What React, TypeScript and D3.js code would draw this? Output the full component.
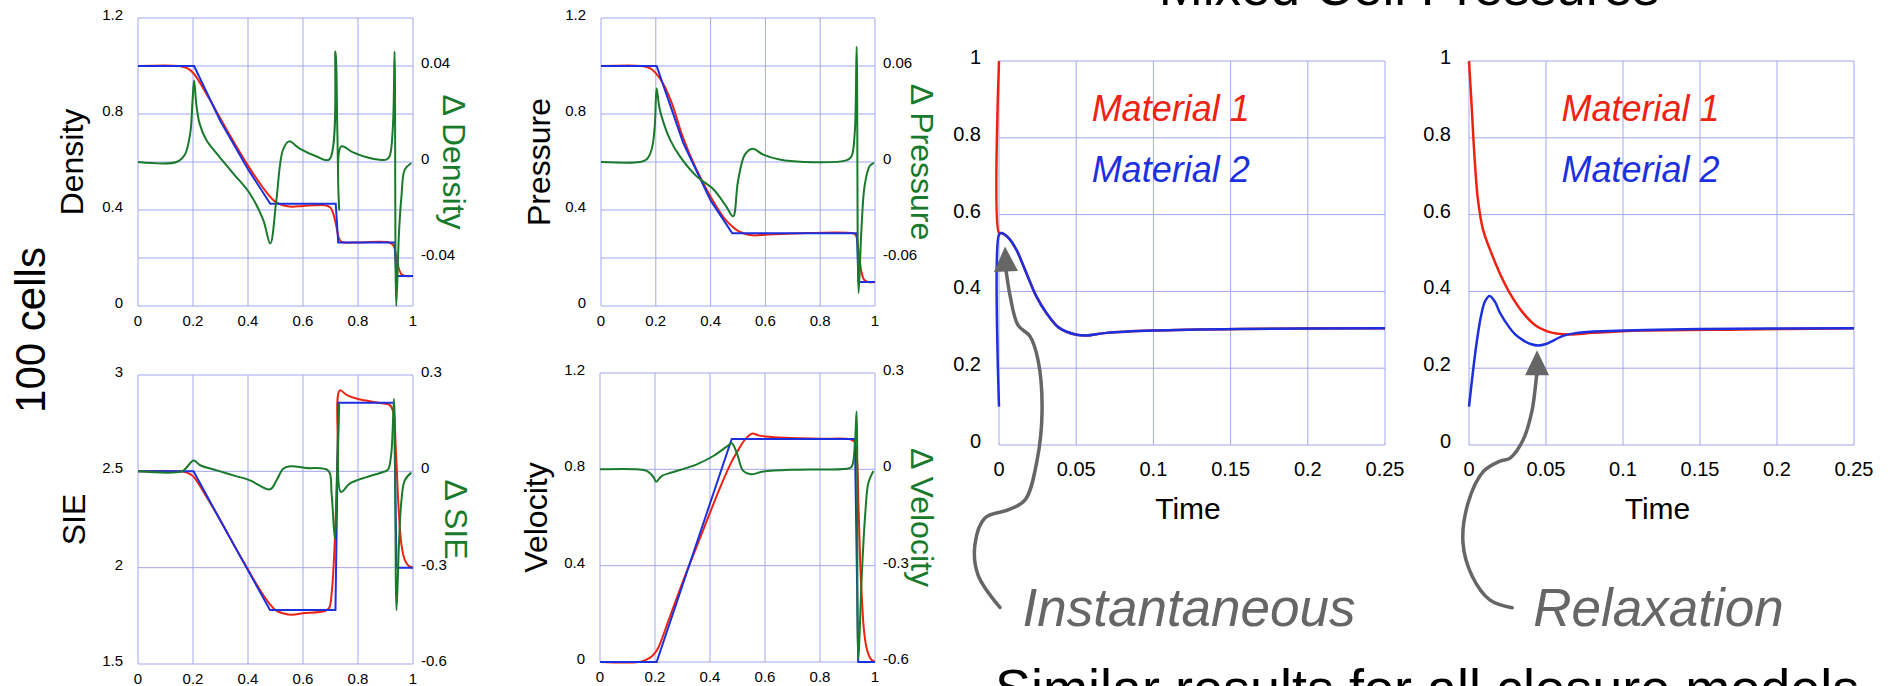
import { useEffect, useRef } from "react";
import * as d3 from "d3";

type Pt = [number, number];

// ---- 1D shock tube profiles (x in [0,1]) ----
const profileTicks = [0, 0.2, 0.4, 0.6, 0.8, 1];

const densityExact: Pt[] = [[0, 1], [0.204, 1], [0.3, 0.77], [0.4, 0.57], [0.481, 0.426], [0.719, 0.426], [0.728, 0.265], [0.933, 0.265], [0.939, 0.125], [1, 0.125]];
const densityCalc: Pt[] = [[0, 1], [0.15, 1], [0.18, 0.99], [0.2, 0.972], [0.22, 0.94], [0.26, 0.862], [0.3, 0.78], [0.35, 0.68], [0.4, 0.585], [0.45, 0.5], [0.48, 0.456], [0.5, 0.434], [0.53, 0.419], [0.56, 0.414], [0.6, 0.417], [0.68, 0.42], [0.7, 0.41], [0.71, 0.385], [0.72, 0.34], [0.73, 0.285], [0.74, 0.267], [0.8, 0.265], [0.915, 0.264], [0.93, 0.25], [0.94, 0.2], [0.95, 0.15], [0.96, 0.13], [0.975, 0.125], [1, 0.125]];
const densityDiff: Pt[] = [[0, 0], [0.14, 0], [0.17, 0.003], [0.19, 0.012], [0.198, 0.025], [0.204, 0.034], [0.212, 0.024], [0.224, 0.016], [0.248, 0.0093], [0.285, 0.0037], [0.345, -0.0046], [0.406, -0.013], [0.455, -0.024], [0.481, -0.034], [0.503, -0.016], [0.527, 0.005], [0.549, 0.0086], [0.588, 0.0056], [0.648, 0.0024], [0.695, 0.001], [0.718, 0.046], [0.725, 0.012], [0.731, -0.02], [0.739, 0.0065], [0.782, 0.004], [0.842, 0.0017], [0.903, 0.001], [0.915, 0.0024], [0.927, 0.015], [0.933, 0.046], [0.939, -0.06], [0.949, -0.0296], [0.958, -0.0143], [0.97, -0.0032], [0.994, -0.0004]];

const pressureExact: Pt[] = [[0, 1], [0.203, 1], [0.3, 0.68], [0.4, 0.44], [0.479, 0.303], [0.934, 0.303], [0.94, 0.1], [1, 0.1]];
const pressureCalc: Pt[] = [[0, 1], [0.15, 1], [0.18, 0.99], [0.2, 0.97], [0.23, 0.92], [0.26, 0.84], [0.3, 0.7], [0.35, 0.565], [0.4, 0.455], [0.45, 0.365], [0.48, 0.33], [0.5, 0.313], [0.53, 0.299], [0.56, 0.294], [0.6, 0.297], [0.7, 0.302], [0.92, 0.303], [0.93, 0.295], [0.94, 0.23], [0.95, 0.145], [0.96, 0.11], [0.975, 0.1], [1, 0.1]];
const pressureDiff: Pt[] = [[0, 0], [0.142, 0], [0.166, 0.0015], [0.185, 0.008], [0.196, 0.022], [0.203, 0.046], [0.212, 0.035], [0.221, 0.0285], [0.252, 0.014], [0.29, 0.003], [0.349, -0.009], [0.41, -0.017], [0.458, -0.028], [0.482, -0.034], [0.5, -0.012], [0.525, 0.0046], [0.553, 0.0083], [0.592, 0.0046], [0.652, 0.0015], [0.74, 0], [0.895, 0.001], [0.914, 0.0035], [0.926, 0.018], [0.933, 0.072], [0.94, -0.082], [0.95, -0.044], [0.962, -0.015], [0.98, -0.0027], [0.996, -0.0006]];

const sieExact: Pt[] = [[0, 2.5], [0.202, 2.5], [0.3, 2.243], [0.4, 1.986], [0.48, 1.78], [0.718, 1.78], [0.729, 2.856], [0.931, 2.856], [0.94, 2.0], [1, 2.0]];
const sieCalc: Pt[] = [[0, 2.5], [0.15, 2.5], [0.18, 2.492], [0.2, 2.475], [0.25, 2.365], [0.3, 2.245], [0.35, 2.115], [0.4, 1.99], [0.45, 1.87], [0.48, 1.81], [0.5, 1.78], [0.53, 1.762], [0.56, 1.755], [0.6, 1.763], [0.68, 1.775], [0.695, 1.79], [0.705, 1.88], [0.716, 2.15], [0.726, 2.6], [0.734, 2.92], [0.76, 2.895], [0.8, 2.875], [0.88, 2.855], [0.915, 2.845], [0.928, 2.81], [0.938, 2.6], [0.948, 2.3], [0.958, 2.12], [0.97, 2.04], [0.985, 2.008], [1, 2.0]];
const sieDiff: Pt[] = [[0, 0], [0.16, 0], [0.178, 0.0135], [0.202, 0.034], [0.226, 0.019], [0.287, 0.003], [0.347, -0.0125], [0.407, -0.028], [0.48, -0.056], [0.504, -0.028], [0.528, 0.008], [0.553, 0.0156], [0.613, 0.0104], [0.692, 0.002], [0.704, -0.07], [0.716, -0.21], [0.731, 0.21], [0.738, -0.064], [0.77, -0.038], [0.831, -0.018], [0.891, -0.002], [0.909, 0.005], [0.921, 0.055], [0.931, 0.226], [0.94, -0.433], [0.949, -0.225], [0.958, -0.09], [0.97, -0.028], [0.994, -0.004]];

const velocityExact: Pt[] = [[0, 0], [0.206, 0], [0.479, 0.926], [0.927, 0.926], [0.939, 0], [1, 0]];
const velocityCalc: Pt[] = [[0, 0], [0.14, 0], [0.165, 0.008], [0.19, 0.025], [0.21, 0.055], [0.25, 0.175], [0.3, 0.33], [0.35, 0.475], [0.4, 0.62], [0.45, 0.76], [0.48, 0.835], [0.5, 0.875], [0.525, 0.92], [0.552, 0.948], [0.58, 0.94], [0.65, 0.932], [0.8, 0.927], [0.91, 0.925], [0.925, 0.915], [0.933, 0.87], [0.94, 0.65], [0.946, 0.42], [0.952, 0.27], [0.96, 0.13], [0.97, 0.055], [0.985, 0.012], [1, 0]];
const velocityDiff: Pt[] = [[0, 0], [0.133, 0], [0.17, -0.005], [0.195, -0.025], [0.204, -0.039], [0.224, -0.021], [0.26, -0.01], [0.291, -0.002], [0.352, 0.0156], [0.412, 0.0415], [0.461, 0.0706], [0.479, 0.081], [0.497, 0.052], [0.521, -0.005], [0.548, -0.0156], [0.594, -0.007], [0.715, -0.001], [0.897, 0.002], [0.915, 0.008], [0.927, 0.083], [0.933, 0.18], [0.939, -0.59], [0.952, -0.33], [0.964, -0.145], [0.976, -0.042], [0.994, -0.005]];

// ---- mixed cell pressure histories (time in [0,0.25]) ----
const timeTicks = [0, 0.05, 0.1, 0.15, 0.2, 0.25];
const pressureTicks = [0, 0.2, 0.4, 0.6, 0.8, 1];

const instMat1: Pt[] = [[0, 1], [0, 0.552], [0.0015, 0.552], [0.006, 0.54], [0.0113, 0.508], [0.0177, 0.448], [0.0242, 0.387], [0.0307, 0.344], [0.039, 0.305], [0.0502, 0.287], [0.0567, 0.285], [0.0697, 0.292], [0.1, 0.298], [0.156, 0.302], [0.25, 0.304]];
const instMat2: Pt[] = [[0, 0.1], [0, 0.548], [0.0015, 0.552], [0.006, 0.54], [0.0113, 0.508], [0.0177, 0.448], [0.0242, 0.387], [0.0307, 0.344], [0.039, 0.305], [0.0502, 0.287], [0.0567, 0.285], [0.0697, 0.292], [0.1, 0.298], [0.156, 0.302], [0.25, 0.304]];
const relaxMat1: Pt[] = [[0, 1], [0.0015, 0.899], [0.0037, 0.743], [0.0058, 0.639], [0.0091, 0.561], [0.0145, 0.5], [0.0199, 0.448], [0.0264, 0.396], [0.0351, 0.344], [0.0437, 0.31], [0.0545, 0.292], [0.0654, 0.288], [0.0805, 0.292], [0.113, 0.298], [0.178, 0.301], [0.25, 0.304]];
const relaxMat2: Pt[] = [[0, 0.1], [0.0049, 0.265], [0.008, 0.34], [0.0105, 0.375], [0.0134, 0.388], [0.017, 0.372], [0.02, 0.345], [0.0264, 0.305], [0.03, 0.288], [0.035, 0.273], [0.04, 0.263], [0.045, 0.259], [0.05, 0.263], [0.0524, 0.267], [0.061, 0.284], [0.07, 0.292], [0.091, 0.297], [0.15, 0.302], [0.25, 0.304]];

// annotation arrows, in the data units of their panel (tip last)
const instArrow: Pt[] = [[0.0006, -0.423], [-0.0136, -0.338], [-0.0156, -0.26], [-0.0091, -0.19], [0.0058, -0.169], [0.0169, -0.143], [0.0247, -0.039], [0.0279, 0.091], [0.0253, 0.221], [0.0201, 0.283], [0.0123, 0.312], [0.0071, 0.39], [0.0045, 0.455], [0.0039, 0.517]];
const relaxArrow: Pt[] = [[0.028, -0.424], [0.0137, -0.404], [0.002, -0.341], [-0.0039, -0.255], [-0.0006, -0.151], [0.0091, -0.07], [0.0202, -0.042], [0.0267, -0.034], [0.0351, 0.013], [0.041, 0.091], [0.0442, 0.19], [0.0442, 0.247]];

const RED = "#ee2211";
const BLUE = "#1c30e0";
const GREEN = "#187a2a";
const GRID = "#a3a5f0";
const GRAY = "#666666";
const FONT = "Liberation Sans, Arial, Helvetica, sans-serif";

const profilePanels = [
  { name: "Density", left: 138, right: 413, top: 18, bottom: 306, yDomain: [0, 1.2], yGrid: [0, 0.2, 0.4, 0.6, 0.8, 1, 1.2], yTicks: [0, 0.4, 0.8, 1.2], y2Domain: [-0.06, 0.06], y2Ticks: [-0.04, 0, 0.04], exact: densityExact, calc: densityCalc, diff: densityDiff, lx: 83, rx: 443 },
  { name: "Pressure", left: 601, right: 875, top: 18, bottom: 306, yDomain: [0, 1.2], yGrid: [0, 0.2, 0.4, 0.6, 0.8, 1, 1.2], yTicks: [0, 0.4, 0.8, 1.2], y2Domain: [-0.09, 0.09], y2Ticks: [-0.06, 0, 0.06], exact: pressureExact, calc: pressureCalc, diff: pressureDiff, lx: 550, rx: 911 },
  { name: "SIE", left: 138, right: 413, top: 375, bottom: 664, yDomain: [1.5, 3], yGrid: [1.5, 2, 2.5, 3], yTicks: [1.5, 2, 2.5, 3], y2Domain: [-0.6, 0.3], y2Ticks: [-0.6, -0.3, 0, 0.3], exact: sieExact, calc: sieCalc, diff: sieDiff, lx: 85, rx: 445 },
  { name: "Velocity", left: 600, right: 875, top: 373, bottom: 662, yDomain: [0, 1.2], yGrid: [0, 0.4, 0.8, 1.2], yTicks: [0, 0.4, 0.8, 1.2], y2Domain: [-0.6, 0.3], y2Ticks: [-0.6, -0.3, 0, 0.3], exact: velocityExact, calc: velocityCalc, diff: velocityDiff, lx: 547, rx: 911 },
];

const historyPanels = [
  { caption: "Instantaneous", left: 999, right: 1385, top: 61, bottom: 445, mat1: instMat1, mat2: instMat2, arrow: instArrow },
  { caption: "Relaxation", left: 1469, right: 1854, top: 61, bottom: 445, mat1: relaxMat1, mat2: relaxMat2, arrow: relaxArrow },
];

export default function App() {
  const ref = useRef<SVGSVGElement>(null);

  useEffect(() => {
    document.body.style.margin = "0";
    document.body.style.overflow = "hidden";
    const svg = d3.select(ref.current);
    svg.selectAll("*").remove();
    svg.append("rect").attr("width", 1890).attr("height", 686).attr("fill", "#fff");

    const smooth = d3.curveCatmullRom.alpha(0.5);

    // left: profile panels
    profilePanels.forEach((p) => {
      const g = svg.append("g").attr("font-family", FONT);
      const x = d3.scaleLinear().domain([0, 1]).range([p.left, p.right]);
      const y = d3.scaleLinear().domain(p.yDomain).range([p.bottom, p.top]);
      const y2 = d3.scaleLinear().domain(p.y2Domain).range([p.bottom, p.top]);

      g.selectAll(null).data(p.yGrid).join("line")
        .attr("x1", p.left).attr("x2", p.right)
        .attr("y1", (d) => y(d)).attr("y2", (d) => y(d))
        .attr("stroke", GRID).attr("stroke-width", 1);
      g.selectAll(null).data(profileTicks).join("line")
        .attr("x1", (d) => x(d)).attr("x2", (d) => x(d))
        .attr("y1", p.top).attr("y2", p.bottom)
        .attr("stroke", GRID).attr("stroke-width", 1);

      g.selectAll(null).data(p.yTicks).join("text")
        .attr("x", p.left - 15).attr("y", (d) => y(d) + 2)
        .attr("text-anchor", "end").attr("font-size", 15).text((d) => String(d));
      g.selectAll(null).data(p.y2Ticks).join("text")
        .attr("x", p.right + 8).attr("y", (d) => y2(d) + 2)
        .attr("font-size", 15).text((d) => String(d));
      g.selectAll(null).data(profileTicks).join("text")
        .attr("x", (d) => x(d)).attr("y", p.bottom + 20)
        .attr("text-anchor", "middle").attr("font-size", 15).text((d) => String(d));

      const main = d3.line<Pt>().x((d) => x(d[0])).y((d) => y(d[1]));
      const diff = d3.line<Pt>().x((d) => x(d[0])).y((d) => y2(d[1])).curve(smooth);

      g.append("path").datum(p.calc).attr("d", main.curve(smooth)).attr("fill", "none").attr("stroke", RED).attr("stroke-width", 2);
      g.append("path").datum(p.exact).attr("d", main.curve(d3.curveLinear)).attr("fill", "none").attr("stroke", BLUE).attr("stroke-width", 2);
      g.append("path").datum(p.diff).attr("d", diff).attr("fill", "none").attr("stroke", GREEN).attr("stroke-width", 2);

      const cy = (p.top + p.bottom) / 2;
      g.append("text").attr("transform", `translate(${p.lx},${cy}) rotate(-90)`)
        .attr("text-anchor", "middle").attr("font-size", 32).text(p.name);
      g.append("text").attr("transform", `translate(${p.rx},${cy}) rotate(90)`)
        .attr("text-anchor", "middle").attr("font-size", 32).attr("fill", GREEN).text(`Δ ${p.name}`);
    });

    // right: mixed cell pressure histories
    historyPanels.forEach((p) => {
      const g = svg.append("g").attr("font-family", FONT);
      const x = d3.scaleLinear().domain([0, 0.25]).range([p.left, p.right]);
      const y = d3.scaleLinear().domain([0, 1]).range([p.bottom, p.top]);

      g.selectAll(null).data(pressureTicks).join("line")
        .attr("x1", p.left).attr("x2", p.right)
        .attr("y1", (d) => y(d)).attr("y2", (d) => y(d))
        .attr("stroke", GRID).attr("stroke-width", 1);
      g.selectAll(null).data(timeTicks).join("line")
        .attr("x1", (d) => x(d)).attr("x2", (d) => x(d))
        .attr("y1", p.top).attr("y2", p.bottom)
        .attr("stroke", GRID).attr("stroke-width", 1);

      g.selectAll(null).data(pressureTicks).join("text")
        .attr("x", p.left - 18).attr("y", (d) => y(d) + 3)
        .attr("text-anchor", "end").attr("font-size", 20).text((d) => String(d));
      g.selectAll(null).data(timeTicks).join("text")
        .attr("x", (d) => x(d)).attr("y", p.bottom + 31)
        .attr("text-anchor", "middle").attr("font-size", 20).text((d) => String(d));
      const cx = (p.left + p.right) / 2 - 4;
      g.append("text").attr("x", cx).attr("y", p.bottom + 74)
        .attr("text-anchor", "middle").attr("font-size", 30).text("Time");

      const line = d3.line<Pt>().x((d) => x(d[0])).y((d) => y(d[1])).curve(smooth);
      g.append("path").datum(p.mat1).attr("d", line).attr("fill", "none").attr("stroke", RED).attr("stroke-width", 2.5);
      g.append("path").datum(p.mat2).attr("d", line).attr("fill", "none").attr("stroke", BLUE).attr("stroke-width", 2.5);

      g.append("text").attr("x", x(0.06)).attr("y", y(0.845))
        .attr("font-size", 36).attr("font-style", "italic").attr("fill", RED).text("Material 1");
      g.append("text").attr("x", x(0.06)).attr("y", y(0.684))
        .attr("font-size", 36).attr("font-style", "italic").attr("fill", BLUE).text("Material 2");

      // arrow from caption to curve
      const pts = p.arrow.map((d) => [x(d[0]), y(d[1])] as Pt);
      const tip = pts[pts.length - 1];
      const prev = pts[pts.length - 2];
      const ang = Math.atan2(tip[1] - prev[1], tip[0] - prev[0]);
      const len = 25, half = 12;
      const bx = tip[0] - len * Math.cos(ang), by = tip[1] - len * Math.sin(ang);
      const shaft = pts.slice(0, -1).concat([[bx, by]]);
      g.append("path").datum(shaft)
        .attr("d", d3.line().curve(d3.curveCatmullRom.alpha(0.5)))
        .attr("fill", "none").attr("stroke", GRAY).attr("stroke-width", 3.5).attr("stroke-linecap", "round");
      g.append("polygon")
        .attr("points", [
          tip,
          [bx + half * Math.sin(ang), by - half * Math.cos(ang)],
          [bx - half * Math.sin(ang), by + half * Math.cos(ang)],
        ].map((q) => q.join(",")).join(" "))
        .attr("fill", GRAY);

      g.append("text").attr("x", cx + 1).attr("y", 626)
        .attr("text-anchor", "middle").attr("font-size", 53).attr("font-style", "italic")
        .attr("fill", GRAY).text(p.caption);
    });

    // slide text
    const t = svg.append("g").attr("font-family", FONT);
    t.append("text").attr("x", 1409).attr("y", 5).attr("text-anchor", "middle")
      .attr("font-size", 53).text("Mixed Cell Pressures");
    t.append("text").attr("transform", "translate(45,330) rotate(-90)").attr("text-anchor", "middle")
      .attr("font-size", 42).text("100 cells");
    t.append("text").attr("x", 995).attr("y", 707)
      .attr("font-size", 54).text("Similar results for all closure models");
  }, []);

  return <svg ref={ref} width={1890} height={686} style={{ display: "block" }} />;
}
